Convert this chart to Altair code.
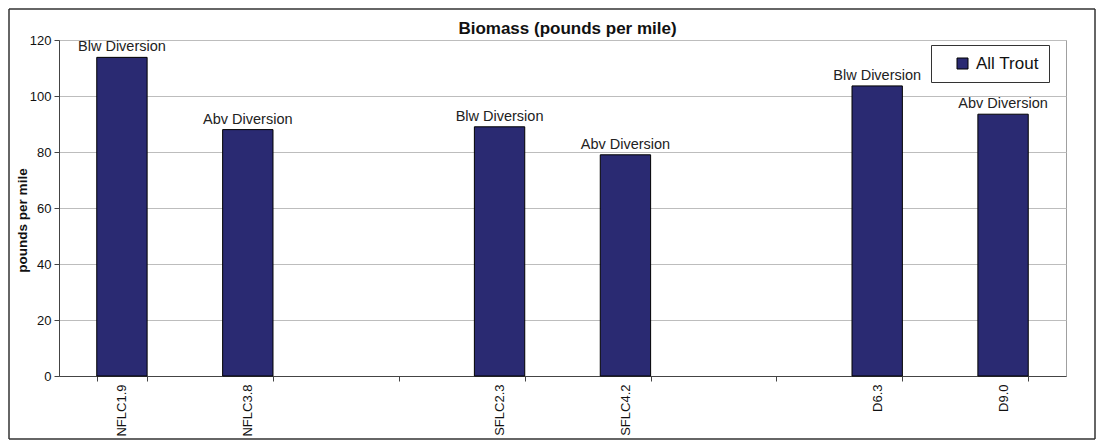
import altair as alt
import pandas as pd

# ---- data ----
# blank slots between the site groups are named with spaces so their labels stay empty
slots = ["NFLC1.9", "NFLC3.8", " ", "SFLC2.3", "SFLC4.2", "  ", "D6.3", "D9.0"]
sites = ["NFLC1.9", "NFLC3.8", "SFLC2.3", "SFLC4.2", "D6.3", "D9.0"]
biomass = [113.8, 88.0, 89.0, 79.0, 103.6, 93.5]
positions = ["Blw Diversion", "Abv Diversion", "Blw Diversion", "Abv Diversion",
             "Blw Diversion", "Abv Diversion"]
series_name = "All Trout"
chart_title = "Biomass (pounds per mile)"
y_ticks = [0, 20, 40, 60, 80, 100, 120]

df = pd.DataFrame({"site": sites, "value": biomass, "pos": positions,
                   "series": [series_name] * len(sites)})

FONT = "Liberation Sans"
W, H = 1007, 336

x_enc = alt.X(
    "site:N",
    scale=alt.Scale(domain=slots, paddingInner=0.6, paddingOuter=0.3),
    axis=alt.Axis(
        title=None, labelAngle=-90, labelAlign="right", labelBaseline="middle",
        labelPadding=3, labelFontSize=13, labelFont=FONT, labelColor="#111",
        tickBand="extent", tickSize=5, tickColor="#444", domainColor="#444",
        grid=False, labelOverlap=False,
    ),
)
y_enc = alt.Y(
    "value:Q",
    scale=alt.Scale(domain=[0, 120], nice=False),
    axis=alt.Axis(
        title="pounds per mile", titleFont=FONT, titleFontSize=13.5,
        titleFontWeight="bold", titleColor="#111", titleAngle=-90,
        titleX=-30, titleY=180, titleAlign="center", titleBaseline="bottom",
        values=y_ticks, labelFontSize=13, labelFont=FONT, labelColor="#111",
        labelPadding=3, tickSize=5, tickColor="#444", domainColor="#444",
        grid=True, gridColor="#bdbdbd", gridWidth=1,
    ),
)

bars = alt.Chart(df).mark_bar(stroke="black", strokeWidth=1).encode(
    x=x_enc,
    y=y_enc,
    color=alt.Color(
        "series:N",
        scale=alt.Scale(domain=[series_name], range=["#2a2a72"]),
        legend=alt.Legend(
            title=None, orient="none", legendX=872, legendY=5,
            symbolType="square", symbolSize=121, symbolStrokeColor="black",
            symbolStrokeWidth=1, symbolOffset=13, labelFont=FONT,
            labelFontSize=17, labelColor="#111", labelOffset=5,
            labelExpr="datum.label + '    '",
            padding=10, strokeColor="#333", fillColor="white",
        ),
    ),
)

texts = alt.Chart(df).mark_text(
    baseline="alphabetic", dy=-6, font=FONT, fontSize=14.5, color="#222"
).encode(x=alt.X("site:N"), y=alt.Y("value:Q"), text="pos:N")

one = alt.Data(values=[{"a": 1}])

# chart title drawn as a text mark above the plot area
title = alt.Chart(one).mark_text(
    baseline="alphabetic", align="center", font=FONT, fontSize=17,
    fontWeight="bold", color="#111"
).encode(x=alt.value(W / 2 + 5), y=alt.value(-6), text=alt.value(chart_title))

# outer chart frame (decorative border)
L, R, T, B = -50, W + 29, -31, H + 63
frame_style = dict(color="#333", strokeWidth=1.5)
frame = [
    alt.Chart(one).mark_rule(**frame_style).encode(x=alt.value(L), x2=alt.value(R), y=alt.value(T)),
    alt.Chart(one).mark_rule(**frame_style).encode(x=alt.value(L), x2=alt.value(R), y=alt.value(B)),
    alt.Chart(one).mark_rule(**frame_style).encode(x=alt.value(L), y=alt.value(T), y2=alt.value(B)),
    alt.Chart(one).mark_rule(**frame_style).encode(x=alt.value(R), y=alt.value(T), y2=alt.value(B)),
]

chart = alt.layer(bars, texts, title, *frame).properties(
    width=W,
    height=H,
    autosize=alt.AutoSizeParams(type="none"),
    padding={"left": 51, "top": 32, "right": 30, "bottom": 64},
    background="white",
).configure_view(stroke="#a0a0a0", strokeWidth=1)

chart.save("out.html", embed_options={"renderer": "svg", "actions": False})
